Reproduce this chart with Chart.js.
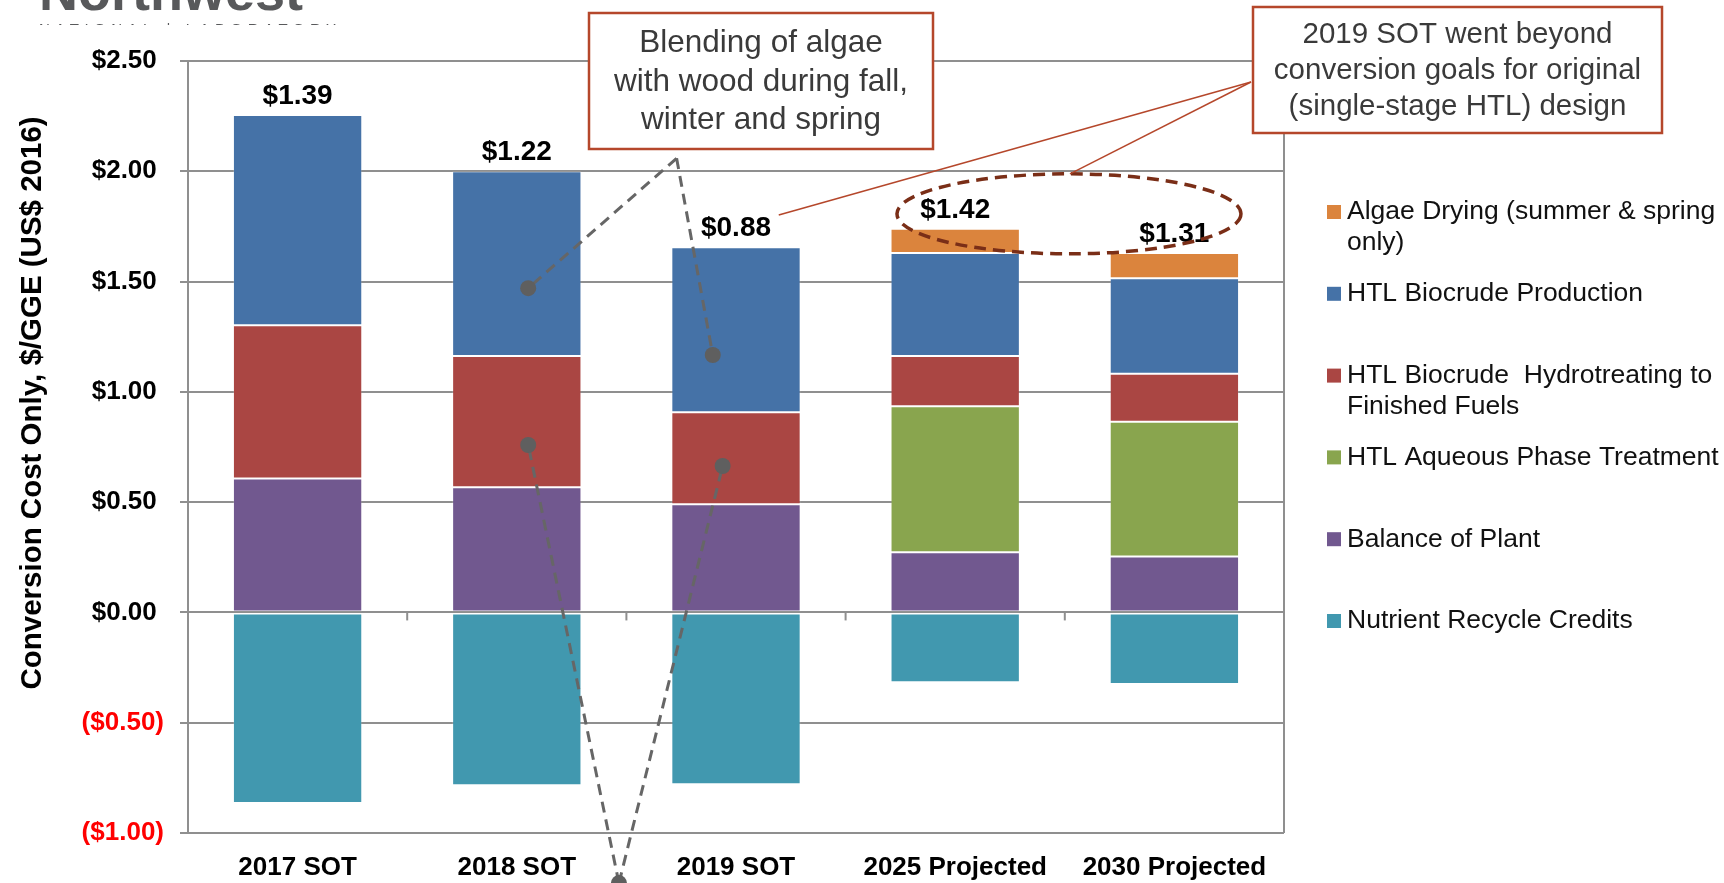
<!DOCTYPE html>
<html>
<head>
<meta charset="utf-8">
<title>HTL Conversion Cost</title>
<script src="https://cdn.jsdelivr.net/npm/chart.js@4.4.1/dist/chart.umd.min.js"></script>
<style>
  html, body { margin: 0; padding: 0; background: #fff; }
  #wrap { position: relative; width: 1724px; height: 883px; }
</style>
</head>
<body>
<div id="wrap"><canvas id="costChart"></canvas></div>
<script>
// values ($/GGE)
const categories = ['2017 SOT', '2018 SOT', '2019 SOT', '2025 Projected', '2030 Projected'];
const nutrientCredits = [-0.864, -0.783, -0.779, -0.317, -0.324];
const balanceOfPlant = [0.607, 0.567, 0.490, 0.273, 0.254];
const aqueousTreatment = [null, null, null, 0.662, 0.610];
const hydrotreating = [0.695, 0.595, 0.417, 0.227, 0.218];
const biocrudeProduction = [0.953, 0.838, 0.749, 0.468, 0.433];
const algaeDrying = [null, null, null, 0.109, 0.115];
const yTicks = [-1.0, -0.5, 0, 0.5, 1.0, 1.5, 2.0, 2.5];

const FONT = 'Arial, "Liberation Sans", sans-serif';
const GRID = '#8f8f8f';
const RUST = '#b5472b';

// annotation anchors in (category index, value)
const blendApex = [1.729, 2.059];
const blendDots = [[1.052, 1.470], [1.894, 1.167]];
const lowApex = [1.466, -1.227];
const lowDots = [[1.052, 0.759], [1.939, 0.664]];
const ovalCenter = [3.519, 1.807];
const label088End = [2.195, 1.802];

function seg(ctx, x1, y1, x2, y2) {
    ctx.beginPath();
    ctx.moveTo(x1, y1);
    ctx.lineTo(x2, y2);
    ctx.stroke();
}

function textBox(ctx, r, lines, lineYs, size) {
    ctx.setLineDash([]);
    ctx.fillStyle = '#fff';
    ctx.fillRect(r.x, r.y, r.w, r.h);
    ctx.strokeStyle = RUST;
    ctx.lineWidth = 2.5;
    ctx.strokeRect(r.x, r.y, r.w, r.h);
    ctx.fillStyle = '#3a3a3a';
    ctx.font = size + 'px ' + FONT;
    ctx.textAlign = 'center';
    ctx.textBaseline = 'middle';
    lines.forEach((t, i) => ctx.fillText(t, r.x + r.w / 2, lineYs[i]));
}

const decor = {
    id: 'decor',
    afterDraw(chart) {
        const { ctx, chartArea: a, scales: { x, y } } = chart;
        const px = p => [x.getPixelForValue(p[0]), y.getPixelForValue(p[1])];
        ctx.save();

        // right border and category ticks on the zero line
        ctx.strokeStyle = GRID;
        ctx.lineWidth = 2;
        seg(ctx, a.right, a.top, a.right, a.bottom);
        const y0 = y.getPixelForValue(0);
        for (let i = 1; i < categories.length; i++) {
            const bx = x.getPixelForValue(i - 0.5);
            seg(ctx, bx, y0, bx, y0 + 8);
        }

        // net totals above each stack
        ctx.fillStyle = '#000';
        ctx.font = 'bold 28px ' + FONT;
        ctx.textAlign = 'center';
        ctx.textBaseline = 'alphabetic';
        categories.forEach((c, i) => {
            let pos = 0, net = 0;
            chart.data.datasets.forEach(ds => {
                const v = ds.data[i];
                if (v == null) return;
                net += v;
                if (v > 0) pos += v;
            });
            ctx.fillText('$' + net.toFixed(2), x.getPixelForValue(i), y.getPixelForValue(pos) - 11);
        });

        // dashed callouts for the blending note
        ctx.strokeStyle = '#666';
        ctx.lineWidth = 3;
        ctx.setLineDash([11, 7]);
        const ap = px(blendApex);
        blendDots.forEach(d => { const p = px(d); seg(ctx, ap[0], ap[1], p[0], p[1]); });
        const lp = px(lowApex);
        lowDots.forEach(d => { const p = px(d); seg(ctx, lp[0], lp[1], p[0], p[1]); });
        ctx.setLineDash([]);
        ctx.fillStyle = '#5f5f5f';
        blendDots.concat(lowDots, [lowApex]).forEach(d => {
            const p = px(d);
            ctx.beginPath();
            ctx.arc(p[0], p[1], 8, 0, Math.PI * 2);
            ctx.fill();
        });

        // dashed oval round the projected totals
        const oc = px(ovalCenter);
        ctx.strokeStyle = '#7a2e17';
        ctx.lineWidth = 3.5;
        ctx.setLineDash([12, 7]);
        ctx.beginPath();
        ctx.ellipse(oc[0], oc[1], 172, 40, 0, 0, Math.PI * 2);
        ctx.stroke();
        ctx.setLineDash([]);

        // solid leader lines from the SOT note
        const from = [1251, 82];
        const le = px(label088End);
        ctx.strokeStyle = RUST;
        ctx.lineWidth = 1.5;
        seg(ctx, from[0], from[1], le[0], le[1]);
        seg(ctx, from[0], from[1], oc[0] + 1, oc[1] - 40);

        textBox(ctx, { x: 589, y: 13, w: 344, h: 136 },
            ['Blending of algae', 'with wood during fall,', 'winter and spring'], [43, 82, 120], 31.5);
        textBox(ctx, { x: 1253, y: 7, w: 409, h: 126 },
            ['2019 SOT went beyond', 'conversion goals for original', '(single-stage HTL) design'], [35, 71, 107], 29.5);

        // legend, top of the stack first
        const items = chart.data.datasets.slice().reverse();
        ctx.font = '26.5px ' + FONT;
        ctx.textAlign = 'left';
        ctx.textBaseline = 'middle';
        items.forEach((ds, i) => {
            const ly = 212 + i * 81.8;
            ctx.fillStyle = ds.backgroundColor;
            ctx.fillRect(1327, ly - 7, 14, 14);
            ctx.fillStyle = '#111';
            ds.label.split('\n').forEach((t, j) => ctx.fillText(t, 1347, ly + j * 31));
        });

        // y axis title
        ctx.save();
        ctx.translate(33, 403);
        ctx.rotate(-Math.PI / 2);
        ctx.font = 'bold 29.5px ' + FONT;
        ctx.fillStyle = '#000';
        ctx.textAlign = 'center';
        ctx.textBaseline = 'middle';
        ctx.fillText('Conversion Cost Only, $/GGE (US$ 2016)', 0, 0);
        ctx.restore();

        // clipped logo text in the corner
        ctx.save();
        ctx.beginPath();
        ctx.rect(0, 0, 420, 25);
        ctx.clip();
        ctx.fillStyle = '#58595b';
        ctx.textAlign = 'left';
        ctx.textBaseline = 'alphabetic';
        ctx.font = 'bold 54px ' + FONT;
        ctx.fillText('Northwest', 39, 10);
        ctx.font = '15px ' + FONT;
        ctx.letterSpacing = '5.5px';
        ctx.fillText('NATIONAL | LABORATORY', 39, 34);
        ctx.restore();

        ctx.restore();
    }
};

function bars(label, data, color) {
    return {
        label: label,
        data: data,
        backgroundColor: color,
        borderColor: 'rgba(255,255,255,0.18)',
        borderWidth: 1,
        borderSkipped: false,
        barPercentage: 0.59,
        categoryPercentage: 1.0
    };
}

new Chart(document.getElementById('costChart'), {
    type: 'bar',
    data: {
        labels: categories,
        datasets: [
            bars('Nutrient Recycle Credits', nutrientCredits, '#4198af'),
            bars('Balance of Plant', balanceOfPlant, '#71588f'),
            bars('HTL Aqueous Phase Treatment', aqueousTreatment, '#89a54e'),
            bars('HTL Biocrude  Hydrotreating to\nFinished Fuels', hydrotreating, '#aa4643'),
            bars('HTL Biocrude Production', biocrudeProduction, '#4572a7'),
            bars('Algae Drying (summer & spring\nonly)', algaeDrying, '#db843d')
        ]
    },
    options: {
        responsive: true,
        maintainAspectRatio: false,
        animation: false,
        layout: { padding: { left: 0, right: 440, top: 61, bottom: 0 } },
        plugins: {
            legend: { display: false },
            tooltip: { enabled: false }
        },
        scales: {
            x: {
                stacked: true,
                grid: { display: false },
                border: { display: false },
                ticks: {
                    color: '#000',
                    font: { family: FONT, size: 26, weight: 'bold' },
                    padding: 11
                },
                afterFit: s => { s.height = 50; }
            },
            y: {
                stacked: true,
                min: -1,
                max: 2.5,
                afterBuildTicks: s => { s.ticks = yTicks.map(v => ({ value: v })); },
                grid: { color: GRID, lineWidth: 2, tickLength: 8 },
                border: { display: true, color: GRID, width: 2 },
                ticks: {
                    padding: 16,
                    font: { family: FONT, size: 26, weight: 'bold' },
                    color: c => (c.tick.value < 0 ? '#ff0000' : '#000'),
                    callback: v => (v < 0 ? '($' + Math.abs(v).toFixed(2) + ')' : '$' + v.toFixed(2) + ' ')
                },
                afterFit: s => { s.width = 188; }
            }
        }
    },
    plugins: [decor]
});
</script>
</body>
</html>
